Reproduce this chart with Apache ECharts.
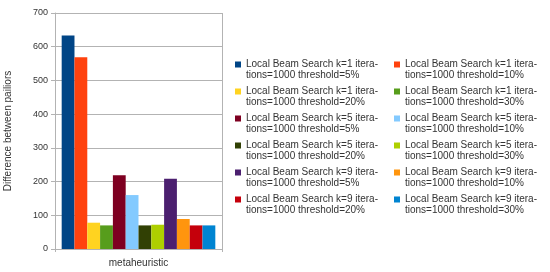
<!DOCTYPE html>
<html>
<head>
<meta charset="utf-8">
<script src="https://cdn.jsdelivr.net/npm/echarts@6/dist/echarts.min.js"></script>
<style>
html,body{margin:0;padding:0;background:#fff;}
#chart{width:550px;height:272px;}
</style>
</head>
<body>
<div id="chart"></div>
<script>
const categories = ["metaheuristic"];
const seriesNames = [
  "Local Beam Search k=1 iterations=1000 threshold=5%",
  "Local Beam Search k=1 iterations=1000 threshold=10%",
  "Local Beam Search k=1 iterations=1000 threshold=20%",
  "Local Beam Search k=1 iterations=1000 threshold=30%",
  "Local Beam Search k=5 iterations=1000 threshold=5%",
  "Local Beam Search k=5 iterations=1000 threshold=10%",
  "Local Beam Search k=5 iterations=1000 threshold=20%",
  "Local Beam Search k=5 iterations=1000 threshold=30%",
  "Local Beam Search k=9 iterations=1000 threshold=5%",
  "Local Beam Search k=9 iterations=1000 threshold=10%",
  "Local Beam Search k=9 iterations=1000 threshold=20%",
  "Local Beam Search k=9 iterations=1000 threshold=30%"
];
const seriesValues = [633, 569, 78, 70, 219, 160, 70, 72, 208, 89, 70, 70];
const colors = ["#004586","#ff420e","#ffd320","#579d1c","#7e0021","#83caff",
                "#314004","#aecf00","#4b1f6f","#ff950e","#c5000b","#0084d1"];
const yTicks = [0, 100, 200, 300, 400, 500, 600, 700];
const yAxisTitle = "Difference between pailiors";

const FONT = "'Liberation Sans', Arial, sans-serif";
const iconPath = 'path://M0,0L0.01,0Z M0,2.5H6V8.5H0Z M0,22L0.01,22Z';

function legendFmt(name) {
  return name.replace(' iterations=', ' itera-\ntions=');
}

function makeLegend(left, names) {
  return {
    orient: 'vertical',
    left: left,
    top: 59,
    padding: 0,
    itemGap: 5,
    itemWidth: 6,
    itemHeight: 22,
    icon: iconPath,
    data: names,
    formatter: legendFmt,
    textStyle: { fontFamily: FONT, fontSize: 10, color: '#333', lineHeight: 11 },
    selectedMode: false
  };
}

const chart = echarts.init(document.getElementById('chart'), null, { renderer: 'canvas' });
chart.setOption({
  animation: false,
  color: colors,
  grid: { left: 55, right: 328, top: 13, bottom: 23, containLabel: false },
  legend: [
    makeLegend(235, seriesNames.filter((n, i) => i % 2 === 0)),
    makeLegend(394, seriesNames.filter((n, i) => i % 2 === 1))
  ],
  xAxis: {
    type: 'category',
    data: categories,
    axisLine: { show: true, lineStyle: { color: '#b3b3b3', width: 1 } },
    axisTick: { show: true, length: 3, lineStyle: { color: '#b3b3b3' } },
    splitLine: { show: true, lineStyle: { color: '#b3b3b3', width: 1 } },
    axisLabel: { fontFamily: FONT, fontSize: 10, color: '#333', margin: 9 }
  },
  yAxis: {
    type: 'value',
    min: yTicks[0],
    max: yTicks[yTicks.length - 1],
    interval: 100,
    name: yAxisTitle,
    nameLocation: 'middle',
    nameGap: 42,
    nameTextStyle: { fontFamily: FONT, fontSize: 10, color: '#333' },
    axisLine: { show: true, lineStyle: { color: '#b3b3b3', width: 1 } },
    axisTick: { show: true, length: 4, lineStyle: { color: '#b3b3b3' } },
    splitLine: { show: true, lineStyle: { color: '#b3b3b3', width: 1 } },
    axisLabel: { fontFamily: FONT, fontSize: 9, color: '#333', margin: 7 }
  },
  series: seriesNames.map((name, i) => ({
    name: name,
    type: 'bar',
    data: [seriesValues[i]],
    barGap: '0%',
    barCategoryGap: '8%',
    itemStyle: { color: colors[i] }
  }))
});
</script>
</body>
</html>
